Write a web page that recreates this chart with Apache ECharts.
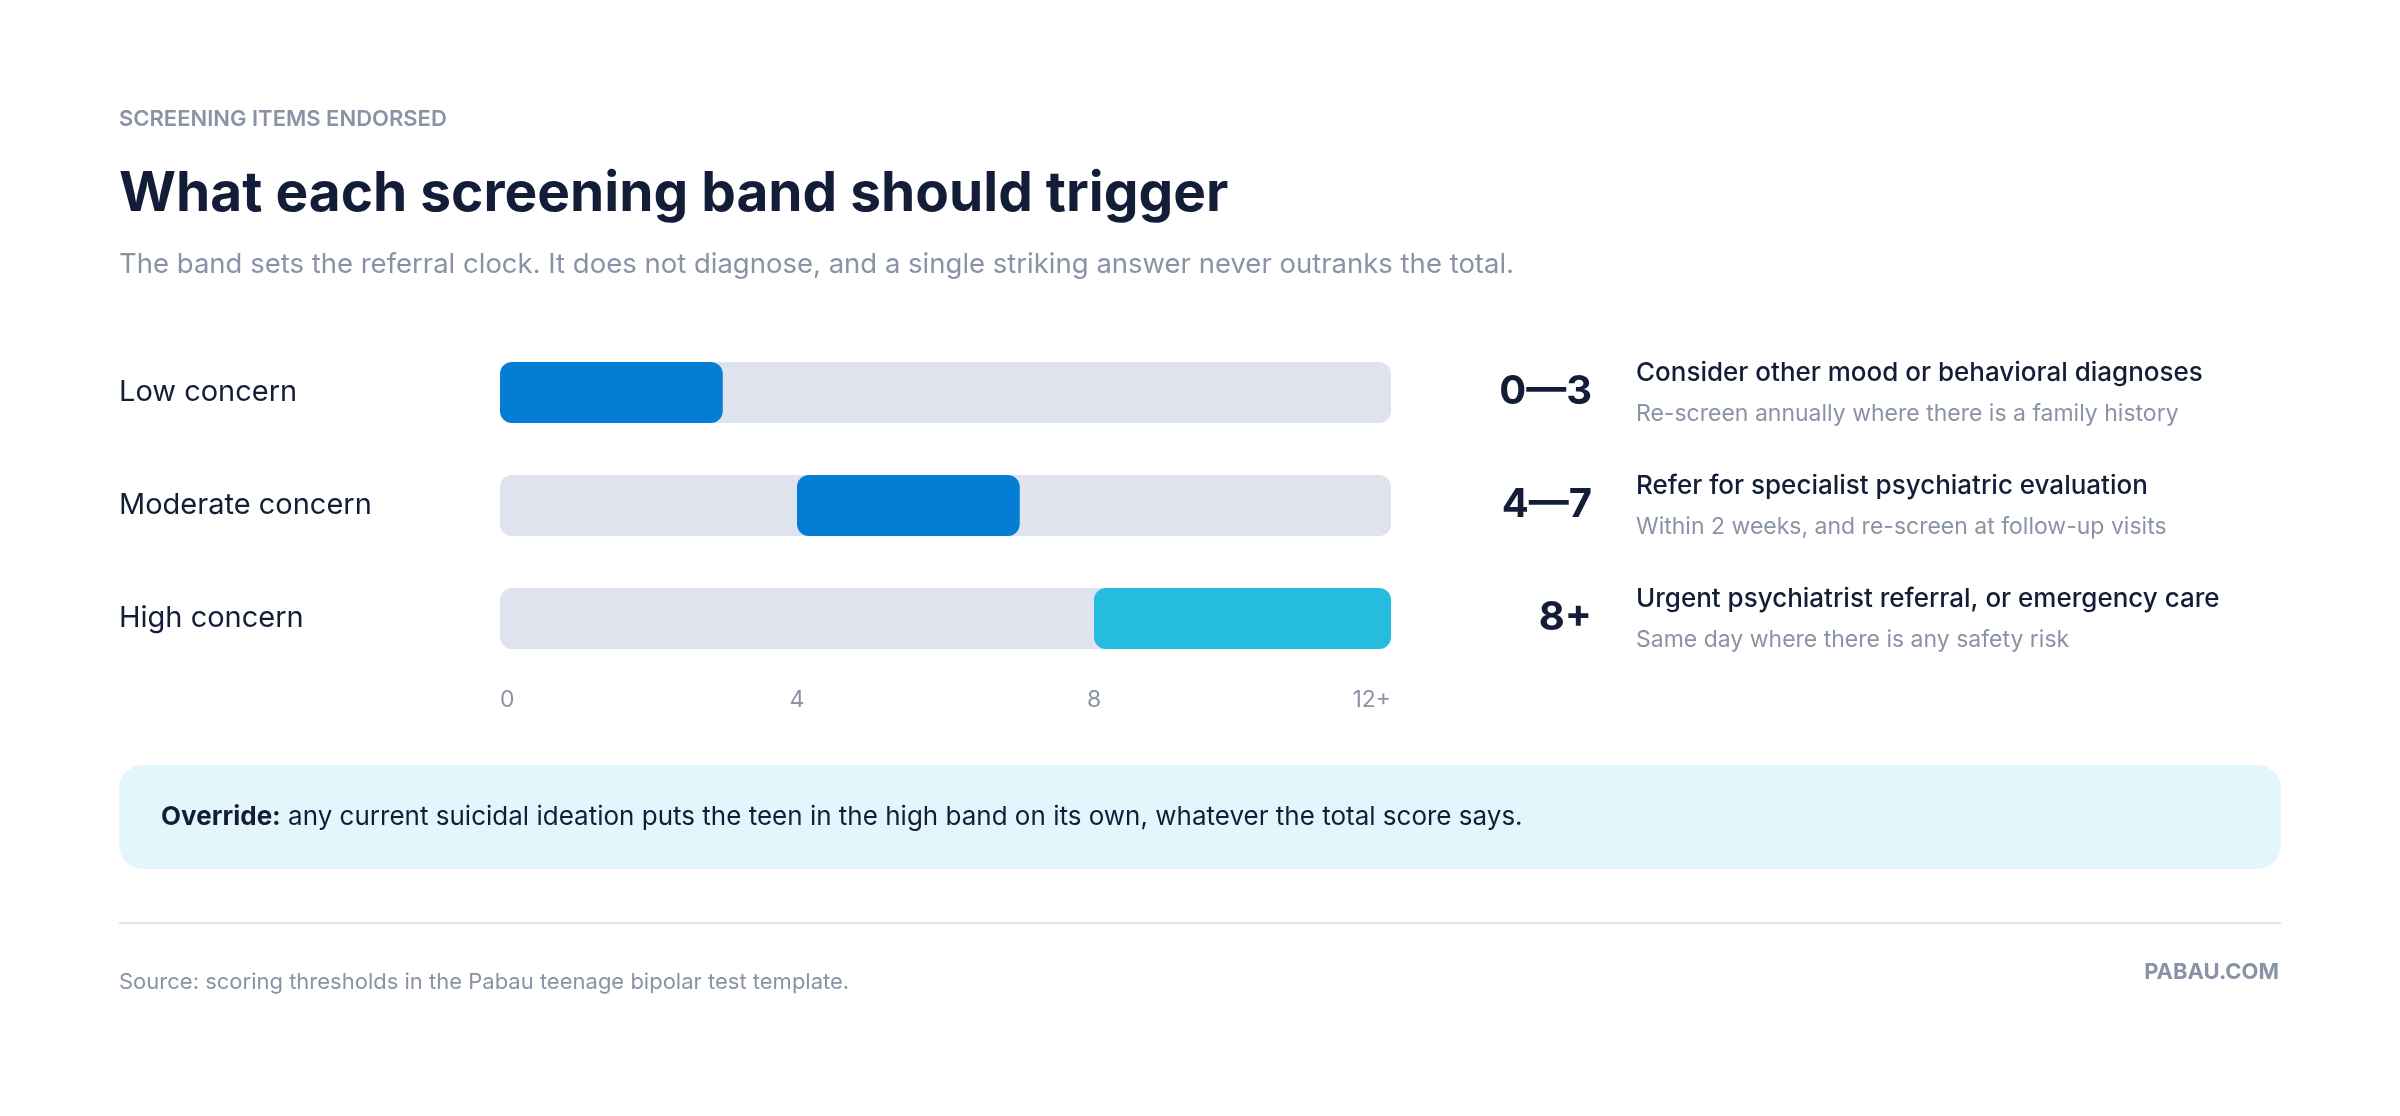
<!DOCTYPE html>
<html><head><meta charset="utf-8">
<script src="https://cdn.jsdelivr.net/npm/echarts@6/dist/echarts.min.js"></script>
<style>html,body{margin:0;padding:0;background:#fff}#c{width:2400px;height:1116px}</style>
</head><body><div id="c"></div>
<script>
const categories = ['Low concern', 'Moderate concern', 'High concern'];
const bandStart = [0, 4, 8];
const bandEnd = [3, 7, 12];
const bandLabels = ['0\u20143', '4\u20147', '8+'];
const actions = ['Consider other mood or behavioral diagnoses', 'Refer for specialist psychiatric evaluation', 'Urgent psychiatrist referral, or emergency care'];
const notes = ['Re-screen annually where there is a family history', 'Within 2 weeks, and re-screen at follow-up visits', 'Same day where there is any safety risk'];
const tickLabels = {0: '0', 4: '4', 8: '8', 12: '12+'};

const F = 'Inter, "Noto Sans", sans-serif';
const navy = '#131d38', gray = '#8a93a6';
const colors = ['#057dd4', '#057dd4', '#25bce0'];
const chart = echarts.init(document.getElementById('c'));
const rowY = [392, 505, 618];
const graphic = [
  {type:'text', x:119, y:119, style:{text:'SCREENING ITEMS ENDORSED', font:'600 22px '+F, fill:gray, verticalAlign:'middle'}},
  {type:'text', x:119, y:194, style:{text:'What each screening band should trigger', font:'700 55px '+F, fill:navy, verticalAlign:'middle'}},
  {type:'text', x:119, y:265, style:{text:'The band sets the referral clock. It does not diagnose, and a single striking answer never outranks the total.', font:'400 27.5px '+F, fill:gray, verticalAlign:'middle'}},
  {type:'rect', shape:{x:119, y:765, width:2162, height:104, r:24}, style:{fill:'#e3f6fb'}},
  {type:'text', x:161, y:817, style:{text:'{b|Override:} any current suicidal ideation puts the teen in the high band on its own, whatever the total score says.', font:'400 26px '+F, fill:navy, verticalAlign:'middle', rich:{b:{font:'700 26px '+F, fill:navy}}}},
  {type:'line', shape:{x1:119, y1:923, x2:2281, y2:923}, style:{stroke:'#e0e3e8', lineWidth:2}},
  {type:'text', x:119, y:982, style:{text:'Source: scoring thresholds in the Pabau teenage bipolar test template.', font:'400 22px '+F, fill:gray, verticalAlign:'middle'}},
  {type:'text', x:2279, y:972, style:{text:'PABAU.COM', font:'700 22px '+F, fill:gray, align:'right', verticalAlign:'middle'}}
];
categories.forEach((c, i) => {
  graphic.push({type:'text', x:1592, y:rowY[i], style:{text:bandLabels[i], font:'700 40px '+F, fill:navy, align:'right', verticalAlign:'middle'}});
  graphic.push({type:'text', x:1636, y:rowY[i]-19, style:{text:actions[i], font:'500 26px '+F, fill:navy, verticalAlign:'middle'}});
  graphic.push({type:'text', x:1636, y:rowY[i]+22, style:{text:notes[i], font:'400 23px '+F, fill:gray, verticalAlign:'middle'}});
});
chart.setOption({
  animation:false,
  grid:{left:500, right:1009, top:336, height:339},
  xAxis:{type:'value', min:0, max:12, interval:4, splitLine:{show:false}, axisLine:{show:false}, axisTick:{show:false},
    axisLabel:{formatter:v => tickLabels[v] || '', color:gray, fontSize:23, fontFamily:F, margin:14, alignMinLabel:'left', alignMaxLabel:'right'}},
  yAxis:{type:'category', data:categories, inverse:true, axisLine:{show:false}, axisTick:{show:false},
    axisLabel:{color:navy, fontSize:29, fontFamily:F, align:'left', margin:381}},
  series:[
    {type:'bar', stack:'s', barWidth:61, data:bandStart, itemStyle:{color:'transparent'},
      showBackground:true, backgroundStyle:{color:'#dfe3ed', borderRadius:12}},
    {type:'bar', stack:'s', barWidth:61, data:bandEnd.map((e, i) => ({value:e - bandStart[i], itemStyle:{color:colors[i]}})),
      itemStyle:{borderRadius:12}}
  ],
  graphic
});
</script></body></html>
